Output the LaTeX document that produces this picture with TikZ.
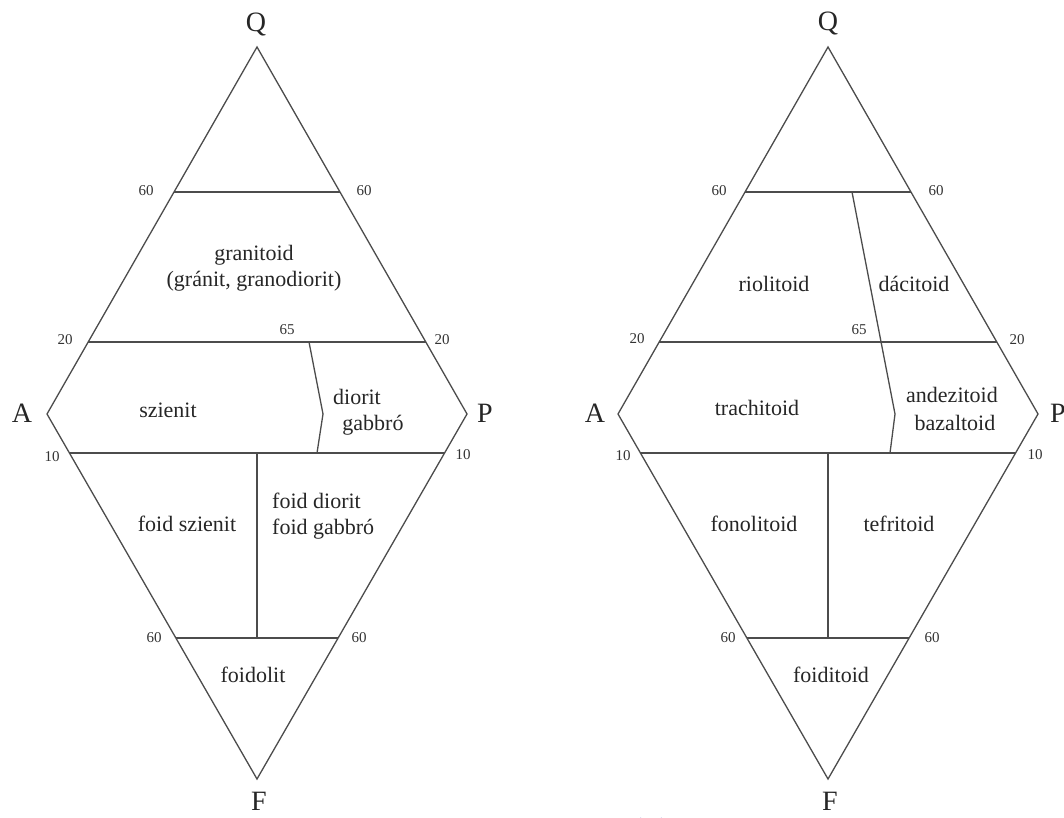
\documentclass[tikz,border=0pt]{standalone}
\usepackage{fontspec}
\setmainfont{Liberation Serif}
\usetikzlibrary{calc}
\begin{document}
\begin{tikzpicture}[x=1pt,y=-1pt,
  edge/.style={draw=black!70, line width=1.3pt, line join=miter},
  vtx/.style={font=\fontsize{28}{30}\selectfont, text=black!85, inner sep=0pt},
  num/.style={font=\fontsize{15}{17}\selectfont, text=black!80, inner sep=0pt},
  reg/.style={font=\fontsize{22}{26}\selectfont, text=black!85, align=center, inner sep=0pt}]
\useasboundingbox (0,0) rectangle (1064,818);
\clip (0,0) rectangle (1064,818);
\fill[white] (0,0) rectangle (1064,818);

% ---------------- left diamond ----------------
\coordinate (LQ) at (257,47);
\coordinate (LA) at (47,414);
\coordinate (LP) at (467,414);
\coordinate (LF) at (257,779);
\coordinate (L60a) at ($(LQ)!0.395!(LA)$);
\coordinate (L60b) at ($(LQ)!0.395!(LP)$);
\coordinate (L20a) at ($(LQ)!0.804!(LA)$);
\coordinate (L20b) at ($(LQ)!0.804!(LP)$);
\coordinate (L10a) at ($(LA)!0.107!(LF)$);
\coordinate (L10b) at ($(LP)!0.107!(LF)$);
\coordinate (L6a) at ($(LA)!0.614!(LF)$);
\coordinate (L6b) at ($(LP)!0.614!(LF)$);
\coordinate (Lk1) at (309,342);
\coordinate (Lk2) at (323,414);
\coordinate (Lk3) at (317,453);
\coordinate (Lv1) at (L10a -| LQ);
\coordinate (Lv2) at (L6a -| LQ);

\draw[edge] (LQ) -- (LP) -- (LF) -- (LA) -- cycle;
\draw[edge] (L60a) -- (L60b);
\draw[edge] (L20a) -- (L20b);
\draw[edge] (L10a) -- (L10b);
\draw[edge] (L6a) -- (L6b);
\draw[edge] (Lk1) -- (Lk2) -- (Lk3);
\draw[edge] (Lv1) -- (Lv2);

\node[vtx] (lq) at (256,25) {Q};
\node[vtx] (la) at (22,413) {A};
\node[vtx] (lp) at (485,413) {P};
\node[vtx] (lf) at (259,801) {F};
\node[num] (ln1) at (146,191) {60};
\node[num] (ln2) at (364,191) {60};
\node[num] (ln3) at (65,340) {20};
\node[num] (ln4) at (442,340) {20};
\node[num] (ln5) at (287,330) {65};
\node[num] (ln6) at (52,457) {10};
\node[num] (ln7) at (463,455) {10};
\node[num] (ln8) at (154,638) {60};
\node[num] (ln9) at (359,638) {60};
\node[reg] (lr1) at (254,268) {granitoid\\(gránit, granodiorit)};
\node[reg] (lr2) at (168,410) {szienit};
\node[reg] (lr3) at (357,397) {diorit};
\node[reg] (lr4) at (373,425) {gabbró};
\node[reg] (lr5) at (187,524) {foid szienit};
\node[reg, align=left, anchor=west] (lr6) at (272,516) {foid diorit\\foid gabbró};
\node[reg] (lr7) at (253,675) {foidolit};

% ---------------- right diamond ----------------
\coordinate (RQ) at (828,47);
\coordinate (RA) at (618,414);
\coordinate (RP) at (1038,414);
\coordinate (RF) at (828,779);
\coordinate (R60a) at ($(RQ)!0.395!(RA)$);
\coordinate (R60b) at ($(RQ)!0.395!(RP)$);
\coordinate (R20a) at ($(RQ)!0.804!(RA)$);
\coordinate (R20b) at ($(RQ)!0.804!(RP)$);
\coordinate (R10a) at ($(RA)!0.107!(RF)$);
\coordinate (R10b) at ($(RP)!0.107!(RF)$);
\coordinate (R6a) at ($(RA)!0.614!(RF)$);
\coordinate (R6b) at ($(RP)!0.614!(RF)$);
\coordinate (Rk0) at (852,192);
\coordinate (Rk2) at (895,414);
\coordinate (Rk3) at (890,453);
\coordinate (Rv1) at (R10a -| RQ);
\coordinate (Rv2) at (R6a -| RQ);

\draw[edge] (RQ) -- (RP) -- (RF) -- (RA) -- cycle;
\draw[edge] (R60a) -- (R60b);
\draw[edge] (R20a) -- (R20b);
\draw[edge] (R10a) -- (R10b);
\draw[edge] (R6a) -- (R6b);
\draw[edge] (Rk0) -- (Rk2) -- (Rk3);
\draw[edge] (Rv1) -- (Rv2);

\node[vtx] (rq) at (828,24) {Q};
\node[vtx] (ra) at (595,413) {A};
\node[vtx] (rp) at (1058,413) {P};
\node[vtx] (rf) at (830,801) {F};
\node[num] (rn1) at (719,191) {60};
\node[num] (rn2) at (936,191) {60};
\node[num] (rn3) at (637,339) {20};
\node[num] (rn4) at (1017,340) {20};
\node[num] (rn5) at (859,330) {65};
\node[num] (rn6) at (623,456) {10};
\node[num] (rn7) at (1035,455) {10};
\node[num] (rn8) at (728,638) {60};
\node[num] (rn9) at (932,638) {60};
\node[reg] (rr1) at (774,284) {riolitoid};
\node[reg] (rr2) at (914,284) {dácitoid};
\node[reg] (rr3) at (757,408) {trachitoid};
\node[reg] (rr4) at (952,395) {andezitoid};
\node[reg] (rr5) at (955,423) {bazaltoid};
\node[reg] (rr6) at (754,524) {fonolitoid};
\node[reg] (rr7) at (899,524) {tefritoid};
\node[reg] (rr8) at (831,675) {foiditoid};

% small partial mark at the bottom edge
\draw[blue!60!black, line width=2pt] (640,818) arc[start angle=180, end angle=0, radius=11];
\end{tikzpicture}
\end{document}
